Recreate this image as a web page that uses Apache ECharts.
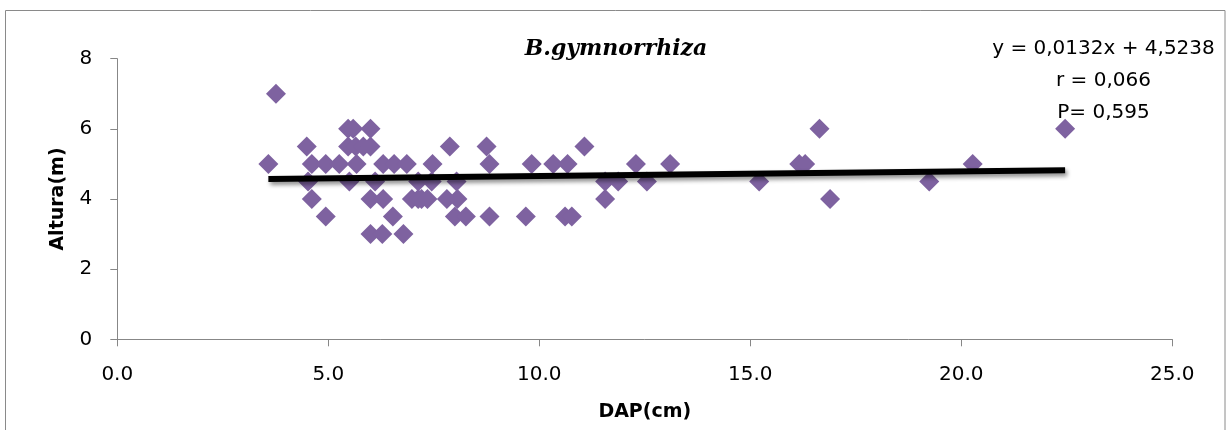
<!DOCTYPE html>
<html><head><meta charset="utf-8">
<script src="https://cdn.jsdelivr.net/npm/echarts@6/dist/echarts.min.js"></script>
<style>html,body{margin:0;padding:0;background:#fff}#c{width:1229px;height:430px}</style>
</head><body><div id="c"></div>
<script>
// Scatter data: DAP (cm) vs Altura (m)
const dapCm = [
  3.58, 3.76,
  4.49, 4.52, 4.61, 4.61, 4.94, 4.94,
  5.26, 5.67,
  5.47, 5.59, 6.00,
  5.47, 5.65, 5.83, 6.00,
  5.50, 6.11,
  6.00, 6.30,
  6.00, 6.28, 6.78,
  6.30, 6.56, 6.86, 7.47,
  6.53,
  6.98, 7.13, 7.21, 7.35, 7.81, 8.06,
  7.13, 7.45, 8.04,
  7.88, 8.75,
  8.82, 9.82, 10.33, 10.67,
  8.00, 8.26, 8.82, 9.68, 10.61, 10.77,
  11.07,
  11.56, 11.87, 12.55,
  11.56,
  12.29, 13.10,
  15.21, 16.16, 16.30, 16.64, 16.89, 19.24, 20.27, 22.46
];
const alturaM = [
  5, 7,
  5.5, 4.5, 5, 4, 5, 3.5,
  5, 5,
  6, 6, 6,
  5.5, 5.5, 5.5, 5.5,
  4.5, 4.5,
  4, 4,
  3, 3, 3,
  5, 5, 5, 5,
  3.5,
  4, 4, 4, 4, 4, 4,
  4.5, 4.5, 4.5,
  5.5, 5.5,
  5, 5, 5, 5,
  3.5, 3.5, 3.5, 3.5, 3.5, 3.5,
  5.5,
  4.5, 4.5, 4.5,
  4,
  5, 5,
  4.5, 5, 5, 6, 4, 4.5, 5, 6
];
// Linear trend line endpoints
const trendX = [3.58, 22.46];
const trendY = [4.571, 4.820];

const xTickLabels = ['0.0', '5.0', '10.0', '15.0', '20.0', '25.0'];
const yTickLabels = ['0', '2', '4', '6', '8'];
const titleText = 'B.gymnorrhiza';
const equationLines = ['y = 0,0132x + 4,5238', 'r = 0,066', 'P= 0,595'];
const xName = 'DAP(cm)';
const yName = 'Altura(m)';

const points = dapCm.map((x, i) => [x, alturaM[i]]);
const trend = trendX.map((x, i) => [x, trendY[i]]);

const FONT = '"DejaVu Sans", sans-serif';
const chart = echarts.init(document.getElementById('c'), null, {renderer: 'canvas'});
chart.setOption({
  animation: false,
  backgroundColor: '#fff',
  grid: {left: 117.3, right: 56.7, top: 58.7, bottom: 90.7, containLabel: false, outerBoundsMode: 'none'},
  xAxis: {
    type: 'value', min: 0, max: 25, interval: 5,
    name: xName, nameLocation: 'middle', nameGap: 63,
    nameTextStyle: {fontFamily: FONT, fontWeight: 'bold', fontSize: 19, color: '#000'},
    axisLine: {show: true, lineStyle: {color: '#878787', width: 1}},
    axisTick: {show: true, length: 7, lineStyle: {color: '#878787'}},
    axisLabel: {margin: 25, fontFamily: FONT, fontSize: 20, color: '#000',
      formatter: (v) => xTickLabels[Math.round(v / 5)] ?? ''},
    splitLine: {show: false}
  },
  yAxis: {
    type: 'value', min: 0, max: 8, interval: 2,
    name: yName, nameLocation: 'middle', nameGap: 50, nameRotate: 90,
    nameTextStyle: {fontFamily: FONT, fontWeight: 'bold', fontSize: 19, color: '#000'},
    axisLine: {show: true, lineStyle: {color: '#878787', width: 1}},
    axisTick: {show: true, length: 7, lineStyle: {color: '#878787'}},
    axisLabel: {margin: 25, fontFamily: FONT, fontSize: 20, color: '#000',
      formatter: (v) => yTickLabels[Math.round(v / 2)] ?? ''},
    splitLine: {show: false}
  },
  graphic: [
    {type: 'rect', silent: true, z: -10,
     shape: {x: 5.5, y: 10.5, width: 1219.5, height: 440},
     style: {fill: 'none', stroke: '#8a8a8a', lineWidth: 1}},
    {type: 'text', silent: true,
     style: {text: titleText, x: 616, y: 49, textAlign: 'center', textVerticalAlign: 'middle',
       font: 'italic bold 22px "DejaVu Serif", serif', fill: '#000'}},
    ...equationLines.map((t, i) => ({
      type: 'text', silent: true,
      style: {text: t, x: 1103.5, y: 48.3 + i * 32.4, textAlign: 'center', textVerticalAlign: 'middle',
        font: '20px ' + FONT, fill: '#000'}
    }))
  ],
  series: [
    {type: 'scatter', data: points, symbol: 'diamond', symbolSize: 20,
     itemStyle: {color: '#7E62A0', opacity: 1}, z: 2},
    {type: 'line', data: trend, symbol: 'none', z: 3,
     lineStyle: {color: '#000', width: 6, shadowColor: 'rgba(0,0,0,0.45)', shadowBlur: 4, shadowOffsetX: 2, shadowOffsetY: 3}}
  ]
});
</script>
</body></html>
